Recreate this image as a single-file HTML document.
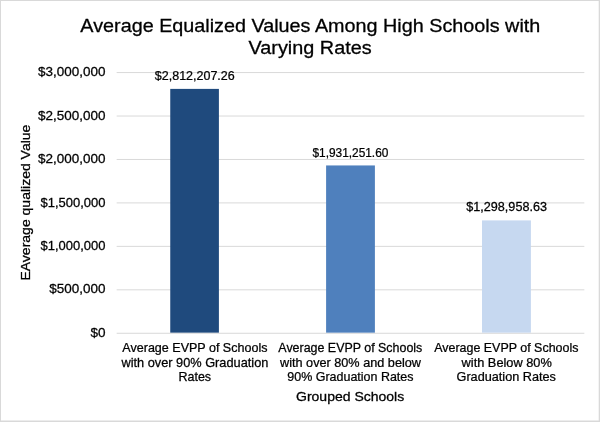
<!DOCTYPE html>
<html><head><meta charset="utf-8">
<style>
html,body{margin:0;padding:0;background:#fff;}
body{width:600px;height:422px;overflow:hidden;position:relative;}
#w{position:absolute;left:0;top:0;width:600px;height:422px;will-change:transform;}
svg{position:absolute;left:0;top:0;}
text{font-family:"Liberation Sans",sans-serif;fill:#000;stroke:#000;}
</style></head><body><div id="w">
<svg width="600" height="422" viewBox="0 0 600 422">
<g fill="#d9d9d9"><rect x="0" y="0" width="600" height="1"/><rect x="0" y="0" width="1" height="422"/><rect x="598.7" y="0" width="1.3" height="422"/><rect x="0" y="420.5" width="600" height="1.5"/></g>
<g stroke="#d9d9d9" stroke-width="1">
<line x1="116.65" x2="584.35" y1="72.57" y2="72.57"/>
<line x1="116.65" x2="584.35" y1="116.02" y2="116.02"/>
<line x1="116.65" x2="584.35" y1="159.47" y2="159.47"/>
<line x1="116.65" x2="584.35" y1="202.92" y2="202.92"/>
<line x1="116.65" x2="584.35" y1="246.37" y2="246.37"/>
<line x1="116.65" x2="584.35" y1="289.82" y2="289.82"/>
<line x1="116.65" x2="584.35" y1="333.27" y2="333.27"/>
</g>
<rect x="170.25" y="88.89" width="48.65" height="243.76" fill="#1f4a7d"/>
<rect x="326.10" y="165.44" width="48.80" height="167.21" fill="#4f80bd"/>
<rect x="482.00" y="220.39" width="48.90" height="112.26" fill="#c6d8f0"/>
<text id="t1" transform="translate(310.30,31.70) scale(1.0308,1)" font-size="19.20" text-anchor="middle" stroke-width="0.30">Average Equalized Values Among High Schools with</text>
<text id="t2" transform="translate(310.10,54.10) scale(1.0336,1)" font-size="19.20" text-anchor="middle" stroke-width="0.30">Varying Rates</text>
<text id="y0" transform="translate(105.50,76.17) scale(1.1049,1)" font-size="12.20" text-anchor="end" stroke-width="0.25">$3,000,000</text>
<text id="y1" transform="translate(105.50,119.62) scale(1.1049,1)" font-size="12.20" text-anchor="end" stroke-width="0.25">$2,500,000</text>
<text id="y2" transform="translate(105.50,163.07) scale(1.1049,1)" font-size="12.20" text-anchor="end" stroke-width="0.25">$2,000,000</text>
<text id="y3" transform="translate(105.50,206.52) scale(1.0660,1)" font-size="12.20" text-anchor="end" stroke-width="0.25">$1,500,000</text>
<text id="y4" transform="translate(105.50,249.97) scale(1.0660,1)" font-size="12.20" text-anchor="end" stroke-width="0.25">$1,000,000</text>
<text id="y5" transform="translate(105.50,293.42) scale(1.1049,1)" font-size="12.20" text-anchor="end" stroke-width="0.25">$500,000</text>
<text id="y6" transform="translate(105.50,337.07) scale(1.1091,1)" font-size="12.20" text-anchor="end" stroke-width="0.25">$0</text>
<text id="d0" transform="translate(194.80,80.09) scale(1.0511,1)" font-size="11.90" text-anchor="middle" stroke-width="0.25">$2,812,207.26</text>
<text id="d1" transform="translate(350.40,156.64) scale(0.9991,1)" font-size="11.90" text-anchor="middle" stroke-width="0.25">$1,931,251.60</text>
<text id="d2" transform="translate(506.60,210.99) scale(1.0617,1)" font-size="11.90" text-anchor="middle" stroke-width="0.25">$1,298,958.63</text>
<text id="c00" transform="translate(194.90,352.15) scale(1.0193,1)" font-size="12.30" text-anchor="middle" stroke-width="0.25">Average EVPP of Schools</text>
<text id="c01" transform="translate(194.90,366.60) scale(1.0395,1)" font-size="12.30" text-anchor="middle" stroke-width="0.25">with over 90% Graduation</text>
<text id="c02" transform="translate(194.80,380.90) scale(1.0157,1)" font-size="12.30" text-anchor="middle" stroke-width="0.25">Rates</text>
<text id="c10" transform="translate(350.30,352.15) scale(1.0121,1)" font-size="12.30" text-anchor="middle" stroke-width="0.25">Average EVPP of Schools</text>
<text id="c11" transform="translate(350.50,366.60) scale(1.0312,1)" font-size="12.30" text-anchor="middle" stroke-width="0.25">with over 80% and below</text>
<text id="c12" transform="translate(350.40,380.90) scale(1.0155,1)" font-size="12.30" text-anchor="middle" stroke-width="0.25">90% Graduation Rates</text>
<text id="c20" transform="translate(506.30,352.15) scale(1.0135,1)" font-size="12.30" text-anchor="middle" stroke-width="0.25">Average EVPP of Schools</text>
<text id="c21" transform="translate(506.70,366.60) scale(1.0405,1)" font-size="12.30" text-anchor="middle" stroke-width="0.25">with Below 80%</text>
<text id="c22" transform="translate(506.20,380.90) scale(1.0311,1)" font-size="12.30" text-anchor="middle" stroke-width="0.25">Graduation Rates</text>
<text id="xt" transform="translate(350.10,400.60) scale(1.0298,1)" font-size="13.60" text-anchor="middle" stroke-width="0.30">Grouped Schools</text>
<text id="yt" transform="translate(29.90,202.60) rotate(-90) scale(1.0308,1)" font-size="13.60" text-anchor="middle" stroke-width="0.30">EAverage qualized Value</text>
</svg></div>
</body></html>
